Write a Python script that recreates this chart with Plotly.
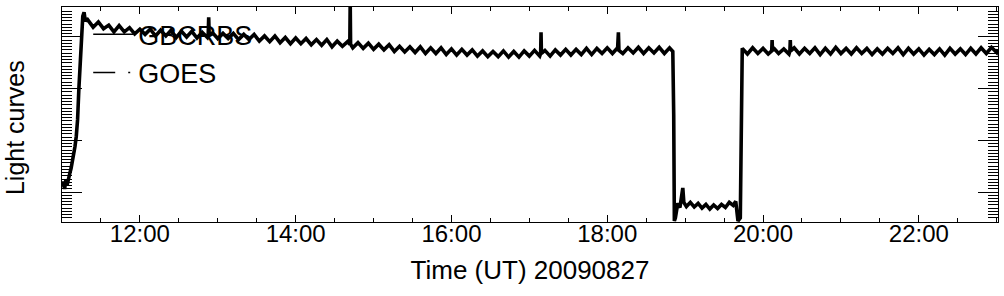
import pandas as pd
import plotly.graph_objects as go

# ---- data (minutes after 2009-08-27 11:00 UT, normalized light-curve units) ----
base_time = "2009-08-27 11:00:00"

gbcrbs_min = [
    0, 1, 2, 3, 4, 5, 6, 7, 8, 9, 10, 11, 12, 13, 14, 15, 16, 17, 18, 19,
    20, 24, 28, 32, 36, 40, 44, 48, 52, 56, 60, 64, 68, 72, 76, 80, 84, 88, 92, 96,
    100, 104, 108, 112, 112.6, 113, 113.4, 116, 120, 124, 128, 132, 136, 140, 144,
    148, 152, 156, 160, 164, 168, 172, 176, 180, 184, 188, 192, 196, 200, 204, 208,
    212, 216, 220, 221.7, 222, 222.3, 224, 228, 232, 236, 240, 244, 248, 252, 256,
    260, 264, 268, 272, 276, 280, 284, 288, 292, 296, 300, 304, 308, 312, 316, 320,
    324, 328, 332, 336, 340, 344, 348, 352, 356, 360, 364, 368, 368.7, 369, 369.3,
    372, 376, 380, 384, 388, 392, 396, 400, 404, 408, 412, 416, 420, 424, 428, 428.6,
    429, 432, 436, 440, 444, 448, 452, 456, 460, 464, 468, 470.5,
    471.2, 471.7, 472.5, 474.3, 476, 478.2, 479, 481, 484, 487, 490, 493, 496, 499,
    502, 505, 508, 511, 514, 517, 519, 520.7, 522.5,
    523.3, 524, 528, 532, 536, 540, 544, 546.7, 547, 547.3, 548, 552, 556, 560,
    560.7, 561, 561.3, 564, 568, 572, 576, 580, 584, 588, 592, 596, 600, 604, 608,
    612, 616, 620, 624, 628, 632, 636, 640, 644, 648, 652, 656, 660, 664, 668, 672,
    676, 680, 684, 688, 692, 696, 700, 704, 708, 712, 716, 720, 721,
]
gbcrbs_val = [
    0.10, 0.20, 0.06, 0.24, 0.14, 0.30, 0.36, 0.46, 0.58, 0.72, 0.88, 1.08, 1.40, 2.00, 2.60, 3.10, 3.40, 3.48, 3.30, 3.36,
    3.33, 3.19, 3.29, 3.16, 3.23, 3.10, 3.22, 3.10, 3.18, 3.06, 3.15, 3.05, 3.15, 3.02, 3.13, 3.02, 3.13, 2.99, 3.11, 3.00,
    3.11, 2.98, 3.09, 2.99, 3.03, 3.38, 3.03, 3.08, 2.97, 3.07, 2.97, 3.07, 2.95, 3.05, 2.95,
    3.05, 2.92, 3.02, 2.91, 3.02, 2.89, 2.99, 2.87, 2.98, 2.87, 2.97, 2.85, 2.95, 2.84, 2.95, 2.81,
    2.92, 2.82, 2.91, 2.86, 3.70, 2.86, 2.79, 2.89, 2.78, 2.88, 2.76, 2.86, 2.75, 2.85, 2.72,
    2.82, 2.71, 2.81, 2.70, 2.81, 2.68, 2.79, 2.68, 2.79, 2.66, 2.77, 2.65, 2.76, 2.65, 2.75, 2.63,
    2.73, 2.62, 2.72, 2.62, 2.73, 2.61, 2.72, 2.61, 2.73, 2.63, 2.74, 2.63, 2.68, 3.09, 2.68,
    2.74, 2.63, 2.75, 2.65, 2.76, 2.65, 2.76, 2.66, 2.78, 2.66, 2.78, 2.68, 2.79, 2.68, 2.79, 3.09,
    2.74, 2.68, 2.79, 2.69, 2.80, 2.68, 2.79, 2.69, 2.80, 2.68, 2.79, 2.72,
    1.50, -0.56, -0.50, -0.22, -0.30, 0.08, -0.20, -0.28, -0.20, -0.29, -0.22, -0.31, -0.24, -0.33,
    -0.25, -0.32, -0.24, -0.30, -0.20, -0.26, -0.18, -0.56, -0.50,
    2.70, 2.78, 2.67, 2.79, 2.68, 2.78, 2.67, 2.73, 2.94, 2.73, 2.79, 2.68, 2.77, 2.67,
    2.73, 2.94, 2.73, 2.79, 2.67, 2.78, 2.68, 2.79, 2.66, 2.78, 2.67, 2.80, 2.68, 2.78, 2.67,
    2.79, 2.68, 2.78, 2.66, 2.77, 2.67, 2.78, 2.68, 2.79, 2.66, 2.78, 2.67, 2.77, 2.65, 2.76, 2.66,
    2.77, 2.65, 2.78, 2.67, 2.77, 2.66, 2.78, 2.67, 2.79, 2.68, 2.80, 2.70, 2.76,
]

# GOES: listed in the legend only, no samples visible in the plotted window
goes_min = []
goes_val = []

x_start = "2009-08-27 11:00:00"
x_end = "2009-08-27 23:01:00"
y_major = [0, 1, 2, 3]

t0 = pd.Timestamp(base_time)
gx = [t0 + pd.Timedelta(minutes=m) for m in gbcrbs_min]
goes_x = [t0 + pd.Timedelta(minutes=m) for m in goes_min] if goes_min else [None]
goes_y = goes_val if goes_val else [None]

FONT = "Liberation Sans, Arial, Helvetica, sans-serif"

fig = go.Figure()
# data curve (thick, noisy band)
fig.add_trace(go.Scatter(
    x=gx, y=gbcrbs_val, mode="lines", name="GBCRBS",
    line=dict(color="black", width=3.6), showlegend=False,
))
# legend sample for GBCRBS (thin line, as in the original key)
fig.add_trace(go.Scatter(
    x=[None], y=[None], mode="lines", name="GBCRBS",
    line=dict(color="black", width=1.5), legendgroup="a",
))
fig.add_trace(go.Scatter(
    x=goes_x, y=goes_y, mode="lines", name="GOES",
    line=dict(color="black", width=1.5, dash="22px,13px,2px,40px"), legendgroup="b",
))

fig.update_layout(
    width=1004, height=296,
    margin=dict(l=62, r=6, t=7, b=74),
    paper_bgcolor="white", plot_bgcolor="white",
    font=dict(family=FONT, color="black", size=24),
    showlegend=True,
    legend=dict(
        x=0.028, y=0.985, xanchor="left", yanchor="top",
        bgcolor="rgba(0,0,0,0)", font=dict(size=27, family=FONT),
        traceorder="grouped", tracegroupgap=0, itemwidth=40,
    ),
    annotations=[dict(
        text="Light curves", textangle=-90, xref="paper", yref="paper",
        x=-0.0495, y=0.44, xanchor="center", yanchor="middle", showarrow=False,
        font=dict(size=25, family=FONT),
    )],
    xaxis=dict(
        type="date", range=[x_start, x_end],
        showgrid=False, zeroline=False,
        showline=True, linecolor="black", linewidth=1.2, mirror="ticks",
        ticks="inside", ticklen=7, tickwidth=1, tickcolor="black",
        dtick=2 * 3600 * 1000, tick0="2009-08-27 12:00:00", tickformat="%H:%M",
        tickfont=dict(size=24, family=FONT), ticklabelstandoff=-10,
        minor=dict(ticks="inside", ticklen=4, tickwidth=1, tickcolor="black",
                   dtick=30 * 60 * 1000, tick0="2009-08-27 11:00:00", showgrid=False),
        title=dict(text="Time (UT) 20090827", font=dict(size=26, family=FONT), standoff=14),
    ),
    yaxis=dict(
        range=[-0.58, 3.58],
        showgrid=False, zeroline=False,
        showline=True, linecolor="black", linewidth=1.2, mirror="ticks",
        ticks="inside", ticklen=20, tickwidth=1, tickcolor="black",
        tickvals=y_major, showticklabels=False,
        minor=dict(ticks="inside", ticklen=10, tickwidth=1.2, tickcolor="black",
                   dtick=1 / 16, tick0=0, showgrid=False),
    ),
)

fig.write_html("out.html")
